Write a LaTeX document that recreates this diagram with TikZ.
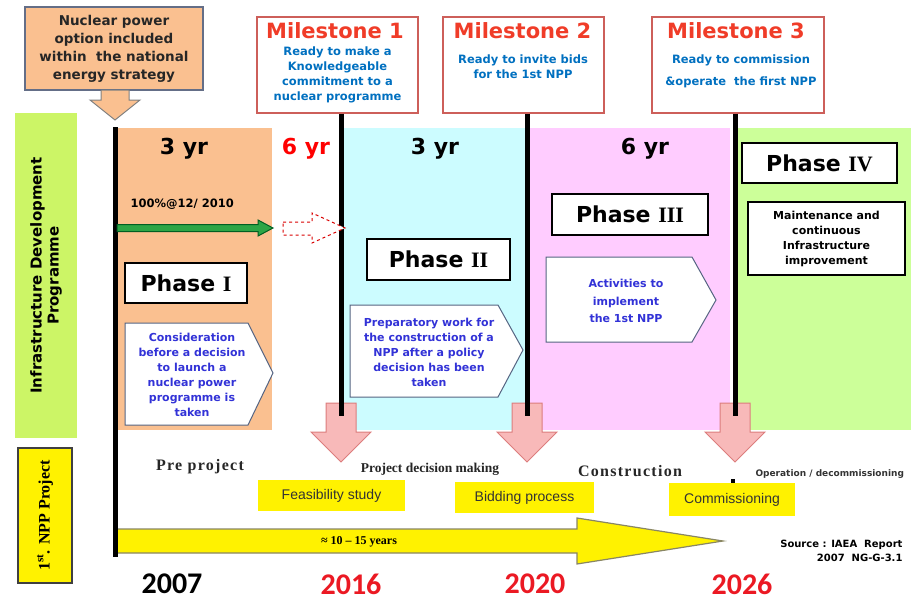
\documentclass[tikz,border=0pt]{standalone}
\usepackage{fontspec}
\setmainfont{DejaVu Sans}
\newfontfamily\serifb{Liberation Serif}
\newfontfamily\serifsp{Liberation Serif}[LetterSpace=8]
\newfontfamily\arialf{Liberation Sans}
\newfontfamily\yearfont{Carlito}

\definecolor{phaseorange}{RGB}{250,192,144}
\definecolor{phasecyan}{RGB}{204,252,255}
\definecolor{phasepink}{RGB}{255,204,255}
\definecolor{phasegreen}{RGB}{204,255,153}
\definecolor{labelgreen}{RGB}{204,245,102}
\definecolor{msred}{RGB}{240,60,40}
\definecolor{msborder}{RGB}{205,95,90}
\definecolor{msblue}{RGB}{0,112,192}
\definecolor{chevblue}{RGB}{50,50,215}
\definecolor{chevborder}{RGB}{85,100,130}
\definecolor{downpink}{RGB}{248,185,185}
\definecolor{downborder}{RGB}{220,125,125}
\definecolor{yearred}{RGB}{235,25,35}
\definecolor{arrowgreen}{RGB}{45,165,70}
\definecolor{darkgreen}{RGB}{0,95,35}
\definecolor{boxgray}{RGB}{100,110,135}

\tikzset{
  msbox/.style={draw=msborder, line width=1.2pt, fill=white},
  mstitle/.style={font=\fontsize{21}{24}\selectfont\bfseries, text=msred},
  msbody/.style={font=\fontsize{11.5}{15}\selectfont\bfseries, text=msblue, align=center},
  mileline/.style={line width=5pt},
  yrlabel/.style={font=\fontsize{22}{24}\selectfont\bfseries},
  phasebox/.style={draw, line width=1.5pt, fill=white, inner sep=0pt, font=\fontsize{22}{24}\selectfont\bfseries},
  chevron/.style={draw=chevborder, line width=1pt, fill=white},
  chevtext/.style={font=\fontsize{11}{15}\selectfont\bfseries, text=chevblue, align=center},
  downarrow/.style={draw=downborder, line width=1pt, fill=downpink},
  stage/.style={font=\serifsp\bfseries\fontsize{16}{18}\selectfont, text=black!85},
  taskbox/.style={fill=yellow, inner sep=0pt, text=black!80, font=\arialf\fontsize{14}{16}\selectfont},
  yearlabel/.style={inner sep=0pt, font=\yearfont\bfseries\fontsize{30}{32}\selectfont}
}

\begin{document}
\begin{tikzpicture}[x=1pt,y=-1pt]
    \useasboundingbox (0,0) rectangle (911,600);

    % Phase backgrounds
    \fill[phaseorange] (117,128) rectangle (272,430);
    \fill[phasecyan] (343,128) rectangle (527,430);
    \fill[phasepink] (529,128) rectangle (730,430);
    \fill[phasegreen] (737,128) rectangle (911,430);

    % Side labels
    \node[fill=labelgreen, rotate=90, minimum width=325, minimum height=62, align=center,
          font=\fontsize{15}{17}\selectfont\bfseries] (idp) at (46,275.5)
          {Infrastructure Development\\Programme};
    \node[fill=yellow, draw=black!75, line width=1.2pt, rotate=90, minimum width=135, minimum height=54,
          font=\serifb\bfseries\fontsize{16}{18}\selectfont] (npp) at (45,515.5)
          {1\textsuperscript{st}. NPP Project};

    % National strategy box
    \node[draw=boxgray, line width=1.5pt, fill=phaseorange, minimum width=178, minimum height=83,
          align=center, text=black!85, font=\fontsize{13.5}{18}\selectfont\bfseries] (nps) at (114,48.5)
          {Nuclear power\\option included\\within~ the national\\energy strategy};
    \draw[fill=phaseorange, draw=gray, line width=1pt] (101,90) -- (129,90) -- (129,100) -- (140,100)
          -- (115,120) -- (90,100) -- (101,100) -- cycle;

    % Project span arrow
    \draw[fill=yellow, draw=black!55!yellow!60!gray, line width=1.2pt] (117,529) -- (577,529) -- (577,518)
          -- (723,541) -- (577,564) -- (577,553) -- (117,553) -- cycle;
    \node[font=\serifb\bfseries\fontsize{12}{14}\selectfont] (span) at (359,542) {≈ 10 – 15 years};

    % Milestone arrows
    \draw[downarrow] (326,403) -- (356,403) -- (356,432) -- (371,432) -- (341,462) -- (311,432) -- (326,432) -- cycle;
    \draw[downarrow] (512,403) -- (542,403) -- (542,432) -- (557,432) -- (527,462) -- (497,432) -- (512,432) -- cycle;
    \draw[downarrow] (720,403) -- (750,403) -- (750,432) -- (765,432) -- (735,462) -- (705,432) -- (720,432) -- cycle;
    \coordinate (dn1) at (341,416);
    \coordinate (dn2) at (527,416);
    \coordinate (dn3) at (735,416);

    % Milestones
    \node[msbox, minimum width=161, minimum height=96] (ms1) at (337.5,65) {};
    \node[mstitle] (ms1t) at (335,31) {Milestone 1};
    \node[msbody] (ms1b) at (337.5,75) {Ready to make a\\Knowledgeable\\commitment to a\\nuclear programme};

    \node[msbox, minimum width=161, minimum height=96] (ms2) at (523.5,65) {};
    \node[mstitle] (ms2t) at (522.5,31) {Milestone 2};
    \node[msbody] (ms2b) at (523,67) {Ready to invite bids\\for the 1st NPP};

    \node[msbox, minimum width=172, minimum height=96] (ms3) at (738,65) {};
    \node[mstitle] (ms3t) at (736,31) {Milestone 3};
    \node[msbody, font=\fontsize{11.5}{22}\selectfont\bfseries] (ms3b) at (741,71) {Ready to commission\\\&operate~ the first NPP};

    % Time lines
    \coordinate (lnTop) at (115,127);
    \coordinate (lnBot) at (115,557);
    \draw[mileline] (lnTop) -- (lnBot);
    \draw[mileline] (dn1 |- ms1.south) -- (dn1);
    \draw[mileline] (dn2 |- ms2.south) -- (dn2);
    \draw[mileline] (dn3 |- ms3.south) -- (dn3);

    % Durations
    \node[yrlabel] (yr1) at (184,149) {3 yr};
    \node[yrlabel, text=red] (yr1b) at (306,149) {6 yr};
    \node[yrlabel] (yr2) at (435,149) {3 yr};
    \node[yrlabel] (yr3) at (645,149) {6 yr};

    % Progress
    \node[anchor=west, font=\fontsize{11.5}{13}\selectfont\bfseries] (pct) at (127,204) {100\%@12/ 2010};
    \draw[fill=arrowgreen, draw=darkgreen, line width=1pt] (117,224.5) -- (258,224.5) -- (258,220) -- (273,228)
          -- (258,236) -- (258,231.5) -- (117,231.5) -- cycle;
    \draw[fill=white, draw=red!85!black, dashed, line width=1pt] (283,222) -- (312,222) -- (312,213) -- (345,228)
          -- (312,243) -- (312,235) -- (283,235) -- cycle;

    % Phase I
    \node[phasebox, minimum width=122, minimum height=40] (ph1) at (186,283) {Phase {\serifb I}};
    \draw[chevron] (125,323) -- (248,323) -- (273,373) -- (248,425) -- (125,425) -- cycle;
    \node[chevtext] (c1) at (192,375) {Consideration\\before a decision\\to launch a\\nuclear power\\programme is\\taken};

    % Phase II
    \node[phasebox, minimum width=143, minimum height=41] (ph2) at (438.5,259.5) {Phase {\serifb II}};
    \draw[chevron] (350,305) -- (498,305) -- (523,350) -- (498,397) -- (350,397) -- cycle;
    \node[chevtext] (c2) at (429,352) {Preparatory work for\\the construction of a\\NPP after a policy\\decision has been\\taken};

    % Phase III
    \node[phasebox, minimum width=156, minimum height=41] (ph3) at (630,214.5) {Phase {\serifb III}};
    \draw[chevron] (546,257) -- (692,257) -- (716,300) -- (692,342) -- (546,342) -- cycle;
    \node[chevtext, font=\fontsize{11}{17.5}\selectfont\bfseries] (c3) at (626,301) {Activities to\\implement\\the 1st NPP};

    % Phase IV
    \node[phasebox, minimum width=155, minimum height=40] (ph4) at (819.5,163) {Phase {\serifb IV}};
    \node[draw, line width=1.5pt, fill=white, minimum width=157, minimum height=73, align=center,
          font=\fontsize{11}{15}\selectfont\bfseries] (ph4d) at (826.5,238.5)
          {Maintenance and\\continuous\\Infrastructure\\improvement};

    % Project stages
    \node[stage] (pre) at (200,467) {Pre project};
    \node[font=\serifb\bfseries\fontsize{13.5}{15}\selectfont, text=black!85] (pdm) at (430,469) {Project decision making};
    \node[stage] (con) at (630,471) {Construction};
    \node[anchor=west, text=black!80, font=\fontsize{9}{10}\selectfont\bfseries] (opd) at (752,474) {Operation / decommissioning};
    \fill (731,479) rectangle (735,483);

    \node[taskbox, minimum width=147, minimum height=31] (fs) at (331.5,495.5) {Feasibility study};
    \node[taskbox, minimum width=139, minimum height=31] (bp) at (524.5,497.5) {Bidding process};
    \node[taskbox, minimum width=126, minimum height=33] (cm) at (732,499.5) {Commissioning};

    % Source
    \node[anchor=east, align=right, font=\fontsize{10}{14}\selectfont\bfseries] (src) at (906,551)
          {Source : IAEA~ Report\\2007~ NG-G-3.1};

    % Years
    \node[yearlabel] (y2007) at (172,584) {2007};
    \node[yearlabel, text=yearred] (y2016) at (351,584) {2016};
    \node[yearlabel, text=yearred] (y2020) at (535,584) {2020};
    \node[yearlabel, text=yearred] (y2026) at (742,584) {2026};
\end{tikzpicture}
\end{document}
